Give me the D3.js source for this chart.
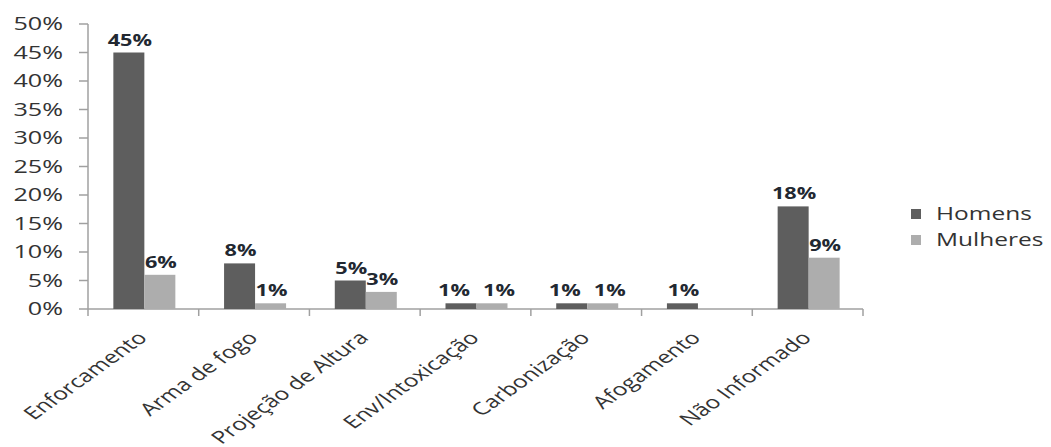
<!DOCTYPE html>
<html>
<head>
<meta charset="utf-8">
<script src="https://cdn.jsdelivr.net/npm/d3@7"></script>
<style>
  body { margin: 0; background: #fff; }
  text { font-family: "Open Sans", sans-serif; }
</style>
</head>
<body>
<div id="chart"></div>
<script>
const categories = ["Enforcamento", "Arma de fogo", "Projeção de Altura", "Env/Intoxicação", "Carbonização", "Afogamento", "Não Informado"];
const seriesNames = ["Homens", "Mulheres"];
const homens = [45, 8, 5, 1, 1, 1, 18];
const mulheres = [6, 1, 3, 1, 1, null, 9];
const yTicks = [0, 5, 10, 15, 20, 25, 30, 35, 40, 45, 50];

const colors = { Homens: "#5e5e5e", Mulheres: "#adadad" };
const width = 1051, height = 447;
const sx = 1.4; // text is drawn horizontally stretched, like the source image

const svg = d3.select("#chart").append("svg")
  .attr("width", width)
  .attr("height", height);

const x0 = d3.scaleBand().domain(categories).range([88, 863]).padding(0);
const groupW = x0.bandwidth() * 0.56;
const x1 = d3.scaleBand().domain(seriesNames).range([0, groupW]);
const y = d3.scaleLinear().domain([0, 50]).range([309, 24]);

const axisColor = "#a0a0a0";
const textColor = "#333333";

// y axis
svg.append("line")
  .attr("x1", 88).attr("x2", 88)
  .attr("y1", y(50)).attr("y2", y(0))
  .attr("stroke", axisColor).attr("stroke-width", 1.5);

svg.selectAll(".ytick")
  .data(yTicks)
  .enter()
  .append("line")
  .attr("x1", 79).attr("x2", 88)
  .attr("y1", d => y(d)).attr("y2", d => y(d))
  .attr("stroke", axisColor).attr("stroke-width", 1.5);

svg.selectAll(".ylab")
  .data(yTicks)
  .enter()
  .append("text")
  .attr("transform", d => `translate(63,${y(d)}) scale(${sx},1)`)
  .attr("dy", "0.36em")
  .attr("text-anchor", "end")
  .attr("font-size", 18)
  .attr("fill", textColor)
  .text(d => d + "%");

// x axis
svg.append("line")
  .attr("x1", 88).attr("x2", 863)
  .attr("y1", y(0)).attr("y2", y(0))
  .attr("stroke", axisColor).attr("stroke-width", 1.5);

const xTickPos = categories.map(c => x0(c)).concat([x0.range()[1]]);
svg.selectAll(".xtick")
  .data(xTickPos)
  .enter()
  .append("line")
  .attr("x1", d => d).attr("x2", d => d)
  .attr("y1", y(0)).attr("y2", y(0) + 7)
  .attr("stroke", axisColor).attr("stroke-width", 1.5);

svg.selectAll(".xlab")
  .data(categories)
  .enter()
  .append("text")
  .attr("transform", d => `translate(${x0(d) + x0.bandwidth() / 2 + 5},${y(0) + 30}) scale(${sx},1) rotate(-45)`)
  .attr("text-anchor", "end")
  .attr("font-size", 17.5)
  .attr("fill", textColor)
  .text(d => d);

// bars
const rows = categories.map((c, i) => ({
  cat: c,
  same: homens[i] === mulheres[i],
  values: [
    { key: "Homens", value: homens[i] },
    { key: "Mulheres", value: mulheres[i] }
  ].filter(v => v.value != null)
}));

const groups = svg.selectAll(".group")
  .data(rows)
  .enter()
  .append("g")
  .attr("transform", d => `translate(${x0(d.cat) + (x0.bandwidth() - groupW) / 2 + 1},0)`);

groups.selectAll("rect")
  .data(d => d.values)
  .enter()
  .append("rect")
  .attr("x", d => x1(d.key))
  .attr("y", d => y(d.value))
  .attr("width", x1.bandwidth())
  .attr("height", d => y(0) - y(d.value))
  .attr("fill", d => colors[d.key]);

// labels of equal neighbours are pushed apart a little so they don't touch
groups.selectAll(".val")
  .data(d => d.values.map(v => ({ ...v, same: d.same })))
  .enter()
  .append("text")
  .attr("transform", d => {
    const nudge = d.same ? (d.key === "Homens" ? -7 : 7) : 1;
    return `translate(${x1(d.key) + x1.bandwidth() / 2 + nudge},${y(d.value) - 7}) scale(${sx},1)`;
  })
  .attr("text-anchor", "middle")
  .attr("font-size", 15.5)
  .attr("font-weight", "bold")
  .attr("fill", "#222831")
  .text(d => d.value + "%");

// legend
const legend = svg.selectAll(".legend")
  .data(seriesNames)
  .enter()
  .append("g")
  .attr("transform", (d, i) => `translate(911,${214 + i * 26})`);

legend.append("rect")
  .attr("x", 0).attr("y", -5)
  .attr("width", 10).attr("height", 10)
  .attr("fill", d => colors[d]);

legend.append("text")
  .attr("transform", `translate(25,0) scale(${sx},1)`)
  .attr("dy", "0.36em")
  .attr("font-size", 17.5)
  .attr("fill", textColor)
  .text(d => d);
</script>
</body>
</html>
